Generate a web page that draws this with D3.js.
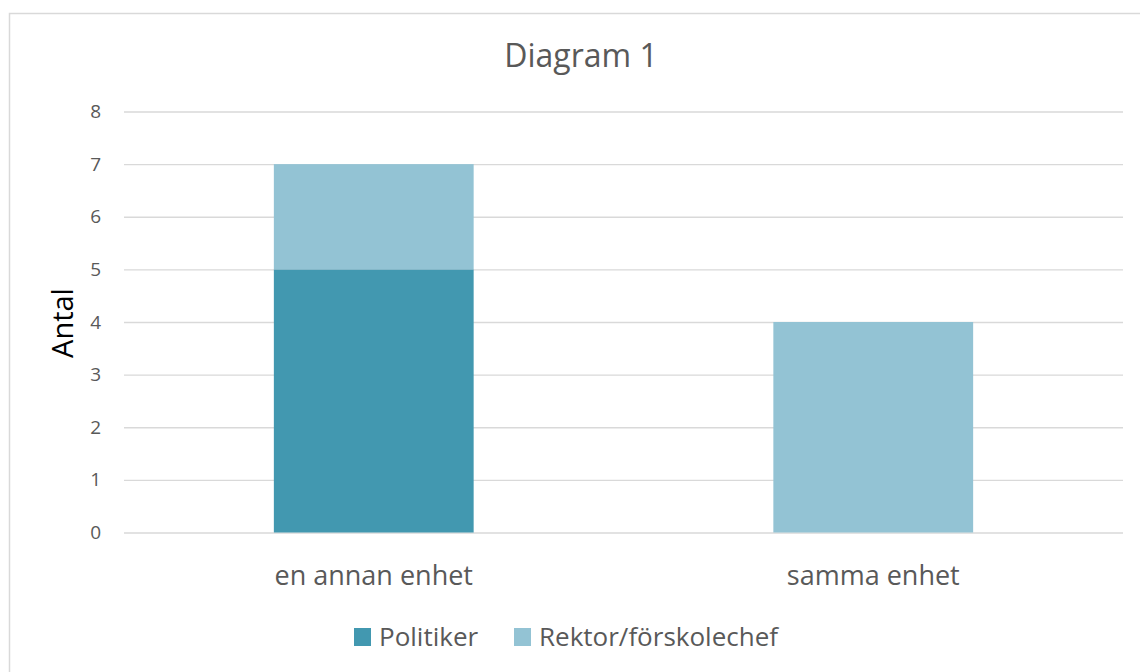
<!DOCTYPE html>
<html><head><meta charset="utf-8">
<script src="https://cdn.jsdelivr.net/npm/d3@7"></script>
<style>html,body{margin:0;padding:0;background:#fff;}svg{display:block;}</style>
</head><body>
<svg id="c" width="1140" height="672"></svg>
<script>
const categories = ["en annan enhet", "samma enhet"];
const seriesNames = ["Politiker", "Rektor/förskolechef"];
const politiker = [5, 0];
const rektor = [2, 4];
const yTicks = [0,1,2,3,4,5,6,7,8];
const colors = ["#4298b0", "#93c3d4"];

const svg = d3.select("#c");
const font = "'Open Sans', 'Segoe UI', sans-serif";
const text = "#595959";
svg.append("rect").attr("x",9.5).attr("y",13.5).attr("width",1140).attr("height",672)
  .attr("fill","#fff").attr("stroke","#d9d9d9").attr("stroke-width",1.5);

const x = d3.scaleBand().domain(categories).range([124,1123]).paddingInner(0.6).paddingOuter(0.3);
const y = d3.scaleLinear().domain([0,8]).range([532.5,111.5]);

const gy = svg.append("g").attr("transform","translate(124,0)")
  .call(d3.axisLeft(y).tickValues(yTicks).tickSize(-999).tickFormat(d3.format("d")));
gy.select(".domain").remove();
gy.selectAll("line").attr("stroke","#d9d9d9").attr("stroke-width",1.3);
gy.selectAll("text").attr("fill",text).attr("font-family",font).attr("font-size",19).attr("x",-23);

const data = categories.map((c,i)=>({cat:c, Politiker:politiker[i], "Rektor/förskolechef":rektor[i]}));
const stack = d3.stack().keys(seriesNames)(data);
svg.append("g").selectAll("g").data(stack).join("g").attr("fill",(d,i)=>colors[i])
  .selectAll("rect").data(d=>d).join("rect")
  .attr("x",d=>x(d.data.cat)).attr("width",x.bandwidth())
  .attr("y",d=>y(d[1])).attr("height",d=>y(d[0])-y(d[1]));

const gx = svg.append("g").attr("transform","translate(0,532.5)")
  .call(d3.axisBottom(x).tickSize(0).tickPadding(33));
gx.select(".domain").remove();
gx.selectAll("text").attr("fill",text).attr("font-family",font).attr("font-size",27);

svg.append("text").attr("x",581).attr("y",67).attr("text-anchor","middle")
  .attr("fill",text).attr("font-family",font).attr("font-size",32).text("Diagram 1");

svg.append("text").attr("transform","translate(73,323) rotate(-90)").attr("text-anchor","middle")
  .attr("fill","#000").attr("font-family",font).attr("font-size",29).text("Antal");

const leg = svg.append("g");
const legX = [354, 514];
seriesNames.forEach((s,i)=>{
  leg.append("rect").attr("x",legX[i]).attr("y",628).attr("width",17).attr("height",18).attr("fill",colors[i]);
  leg.append("text").attr("x",legX[i]+25).attr("y",646).attr("fill",text)
    .attr("font-family",font).attr("font-size",26).text(s);
});
</script>
</body></html>
